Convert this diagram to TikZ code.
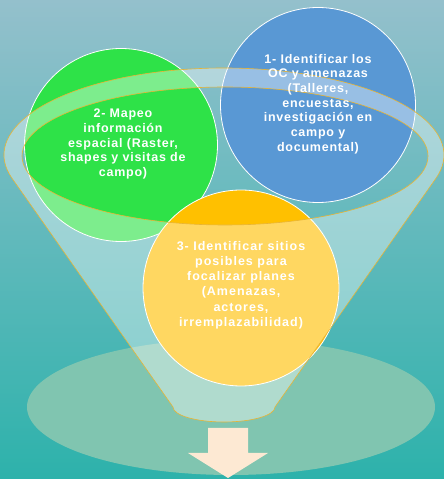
\documentclass[tikz,border=0pt]{standalone}
\usepackage{fontspec}
\newfontfamily\bubblefont[LetterSpace=6]{Liberation Sans}
\newfontfamily\bubblefontwide[LetterSpace=8]{Liberation Sans}

\definecolor{bgtop}{RGB}{148,192,204}
\definecolor{bgmid}{RGB}{76,184,184}
\definecolor{bgbot}{RGB}{45,178,171}
\definecolor{bubblegreen}{RGB}{46,226,72}
\definecolor{bubbleblue}{RGB}{89,152,212}
\definecolor{bubbleorange}{RGB}{255,192,0}
\definecolor{basegreen}{RGB}{128,197,176}
\definecolor{funnelline}{RGB}{232,180,52}
\definecolor{arrowpeach}{RGB}{253,233,211}

\tikzset{
  bubble/.style={circle, draw=white, line width=0.8pt, inner sep=0pt, minimum size=#1},
  bubbletext/.style={align=center, text=white, inner sep=0pt,
    font=\bubblefont\bfseries\fontsize{12.5}{14.7}\selectfont},
  funnelbody/.style={fill=white, fill opacity=0.38, draw=funnelline, line width=0.6pt, even odd rule},
}

\begin{document}
\begin{tikzpicture}[x=1pt,y=1pt]
\useasboundingbox (0,0) rectangle (444,479);

% background
\shade[top color=bgtop, middle color=bgmid, bottom color=bgbot] (0,0) rectangle (444,479);

% base ellipse under the funnel
\fill[basegreen] (231,72) ellipse[x radius=204, y radius=68];

% the three bubbles
\node[bubble=193pt, fill=bubblegreen] (c2) at (121,334) {};
\node[bubble=195pt, fill=bubbleblue] (c1) at (318,374) {};
\node[bubble=196pt, fill=bubbleorange] (c3) at (241,191) {};

% translucent funnel: rim + body, with the opening left clear
\path[funnelbody]
  (12.1,300.6) arc[start angle=195.6, end angle=-15.6, x radius=220, y radius=87]
  -- (275,72) arc[start angle=0, end angle=-180, x radius=51, y radius=15]
  -- cycle
  (225,323) ellipse[x radius=203, y radius=69];

% bubble texts
\node[bubbletext] (t1) at ([yshift=1pt]c1.center)
  {1- Identificar los\\OC y amenazas\\(Talleres,\\encuestas,\\investigación en\\campo y\\documental)};
\node[bubbletext] (t2) at ([xshift=2pt,yshift=1pt]c2.center)
  {2- Mapeo\\información\\espacial (Raster,\\shapes y visitas de\\campo)};
\node[bubbletext, font=\bubblefontwide\bfseries\fontsize{12.5}{15.2}\selectfont] (t3) at ([yshift=3pt]c3.center)
  {3- Identificar sitios\\posibles para\\focalizar planes\\(Amenazas,\\actores,\\irremplazabilidad)};

% output arrow
\fill[arrowpeach] (208,51) -- (248,51) -- (248,26) -- (268,26) -- (228,1) -- (188,26) -- (208,26) -- cycle;
\end{tikzpicture}
\end{document}
